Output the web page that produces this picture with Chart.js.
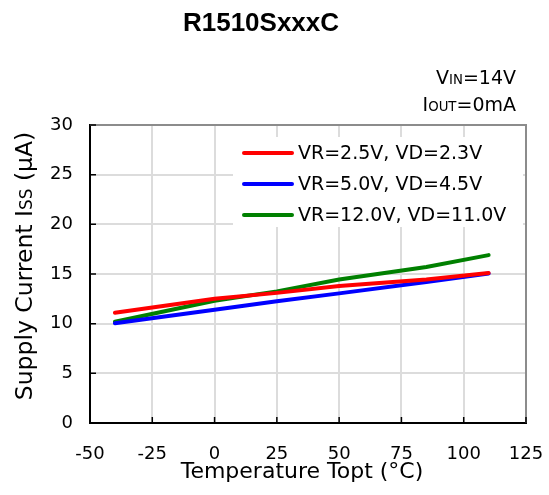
<!DOCTYPE html>
<html><head><meta charset="utf-8">
<script src="https://cdn.jsdelivr.net/npm/chart.js@4.4.1/dist/chart.umd.min.js"></script>
<style>html,body{margin:0;padding:0;background:#fff;}canvas{display:block;}</style>
</head><body>
<canvas id="c" width="549" height="495"></canvas>
<script>
// ---- data ----
const temperatures = [-40, 0, 25, 50, 85, 110];
const issVR25  = [11.1, 12.5, 13.1, 13.8, 14.45, 15.1];
const issVR50  = [10.05, 11.4, 12.25, 13.05, 14.2, 15.05];
const issVR120 = [10.2, 12.3, 13.25, 14.45, 15.7, 16.9];
const seriesLabels = ['VR=2.5V, VD=2.3V', 'VR=5.0V, VD=4.5V', 'VR=12.0V, VD=11.0V'];
const seriesColors = ['#ff0000', '#0000ff', '#008000'];
const xTickValues = [-50, -25, 0, 25, 50, 75, 100, 125];
const yTickValues = [0, 5, 10, 15, 20, 25, 30];
const chartTitle = 'R1510SxxxC';
const xAxisTitle = 'Temperature Topt (°C)';
const yAxisTitleParts = [['Supply Current I', 1], ['SS', 0.72], [' (μA)', 1]];
const conditionLines = [[['V', 1], ['IN', 0.7], ['=14V', 1]], [['I', 1], ['OUT', 0.7], ['=0mA', 1]]];

const FONT = "'DejaVu Sans', sans-serif";

function toPoints(xs, ys) { return xs.map((x, i) => ({x: x, y: ys[i]})); }
const seriesValues = [issVR25, issVR50, issVR120];

function drawParts(ctx, parts, size, x, y, align) {
  let total = 0;
  const widths = parts.map(p => { ctx.font = (size * p[1]) + 'px ' + FONT; const w = ctx.measureText(p[0]).width; total += w; return w; });
  let cx = align === 'right' ? x - total : (align === 'center' ? x - total / 2 : x);
  ctx.textAlign = 'left';
  ctx.textBaseline = 'alphabetic';
  parts.forEach((p, i) => { ctx.font = (size * p[1]) + 'px ' + FONT; ctx.fillText(p[0], cx, y); cx += widths[i]; });
}

const decorations = {
  id: 'decorations',
  afterDraw(chart) {
    const ctx = chart.ctx;
    const a = chart.chartArea;
    const xs = chart.scales.x, ys = chart.scales.y;
    ctx.save();
    // top and right frame
    ctx.strokeStyle = '#8c8c8c';
    ctx.lineWidth = 2;
    ctx.beginPath();
    ctx.moveTo(a.left, a.top); ctx.lineTo(a.right, a.top); ctx.lineTo(a.right, a.bottom);
    ctx.stroke();
    // inner tick marks
    ctx.strokeStyle = '#000';
    ctx.lineWidth = 1.5;
    ctx.beginPath();
    ys.ticks.forEach(t => { const py = ys.getPixelForValue(t.value); ctx.moveTo(a.left, py); ctx.lineTo(a.left + 6, py); });
    xs.ticks.forEach(t => { const px = xs.getPixelForValue(t.value); ctx.moveTo(px, a.bottom); ctx.lineTo(px, a.bottom - 6); });
    ctx.stroke();
    // legend box
    ctx.fillStyle = '#fff';
    ctx.fillRect(233, 137, 290, 90);
    const legendY = [153, 184, 215];
    chart.data.datasets.forEach((ds, i) => {
      ctx.strokeStyle = ds.borderColor;
      ctx.lineWidth = 4;
      ctx.lineCap = 'round';
      ctx.beginPath(); ctx.moveTo(244, legendY[i]); ctx.lineTo(292, legendY[i]); ctx.stroke();
      ctx.fillStyle = '#000';
      ctx.font = '19px ' + FONT;
      ctx.textAlign = 'left';
      ctx.textBaseline = 'middle';
      ctx.fillText(ds.label, 298, legendY[i] + 1);
    });
    // title
    ctx.fillStyle = '#000';
    ctx.font = "bold 26px 'Liberation Sans', Arial, sans-serif";
    ctx.textAlign = 'center';
    ctx.textBaseline = 'alphabetic';
    ctx.fillText(chartTitle, 261, 31);
    // conditions
    drawParts(ctx, conditionLines[0], 19, 516, 84, 'right');
    drawParts(ctx, conditionLines[1], 19, 516, 111, 'right');
    // x axis title
    ctx.font = '22px ' + FONT;
    ctx.textAlign = 'center';
    ctx.fillText(xAxisTitle, 302, 478);
    // y axis title
    ctx.translate(22, 266);
    ctx.rotate(-Math.PI / 2);
    drawParts(ctx, yAxisTitleParts, 23.5, 0, 10, 'center');
    ctx.restore();
  }
};

new Chart(document.getElementById('c'), {
  type: 'line',
  data: {
    datasets: seriesValues.map((vals, i) => ({
      label: seriesLabels[i],
      data: toPoints(temperatures, vals),
      borderColor: seriesColors[i],
      backgroundColor: seriesColors[i],
      borderWidth: 4,
      pointRadius: 0,
      tension: 0,
      fill: false,
      borderCapStyle: 'round'
    }))
  },
  options: {
    responsive: false,
    animation: false,
    devicePixelRatio: 1,
    layout: { padding: { top: 125, right: 23, left: 0, bottom: 0 } },
    plugins: { legend: { display: false }, title: { display: false }, tooltip: { enabled: false } },
    scales: {
      x: {
        type: 'linear', min: -50, max: 125,
        afterBuildTicks: s => { s.ticks = xTickValues.map(v => ({value: v})); },
        afterFit: s => { s.height = 72; s.paddingLeft = 0; s.paddingRight = 0; },
        grid: { color: '#dcdcdc', lineWidth: 2, drawTicks: false },
        border: { color: '#000', width: 2 },
        ticks: { color: '#000', font: { family: FONT, size: 18 }, padding: 21, maxRotation: 0 }
      },
      y: {
        type: 'linear', min: 0, max: 30,
        afterBuildTicks: s => { s.ticks = yTickValues.map(v => ({value: v})); },
        afterFit: s => { s.width = 90; s.paddingTop = 0; s.paddingBottom = 0; },
        grid: { color: '#dcdcdc', lineWidth: 2, drawTicks: false },
        border: { color: '#000', width: 2 },
        ticks: { color: '#000', font: { family: FONT, size: 18 }, padding: 17 }
      }
    }
  },
  plugins: [decorations]
});
</script>
</body></html>
